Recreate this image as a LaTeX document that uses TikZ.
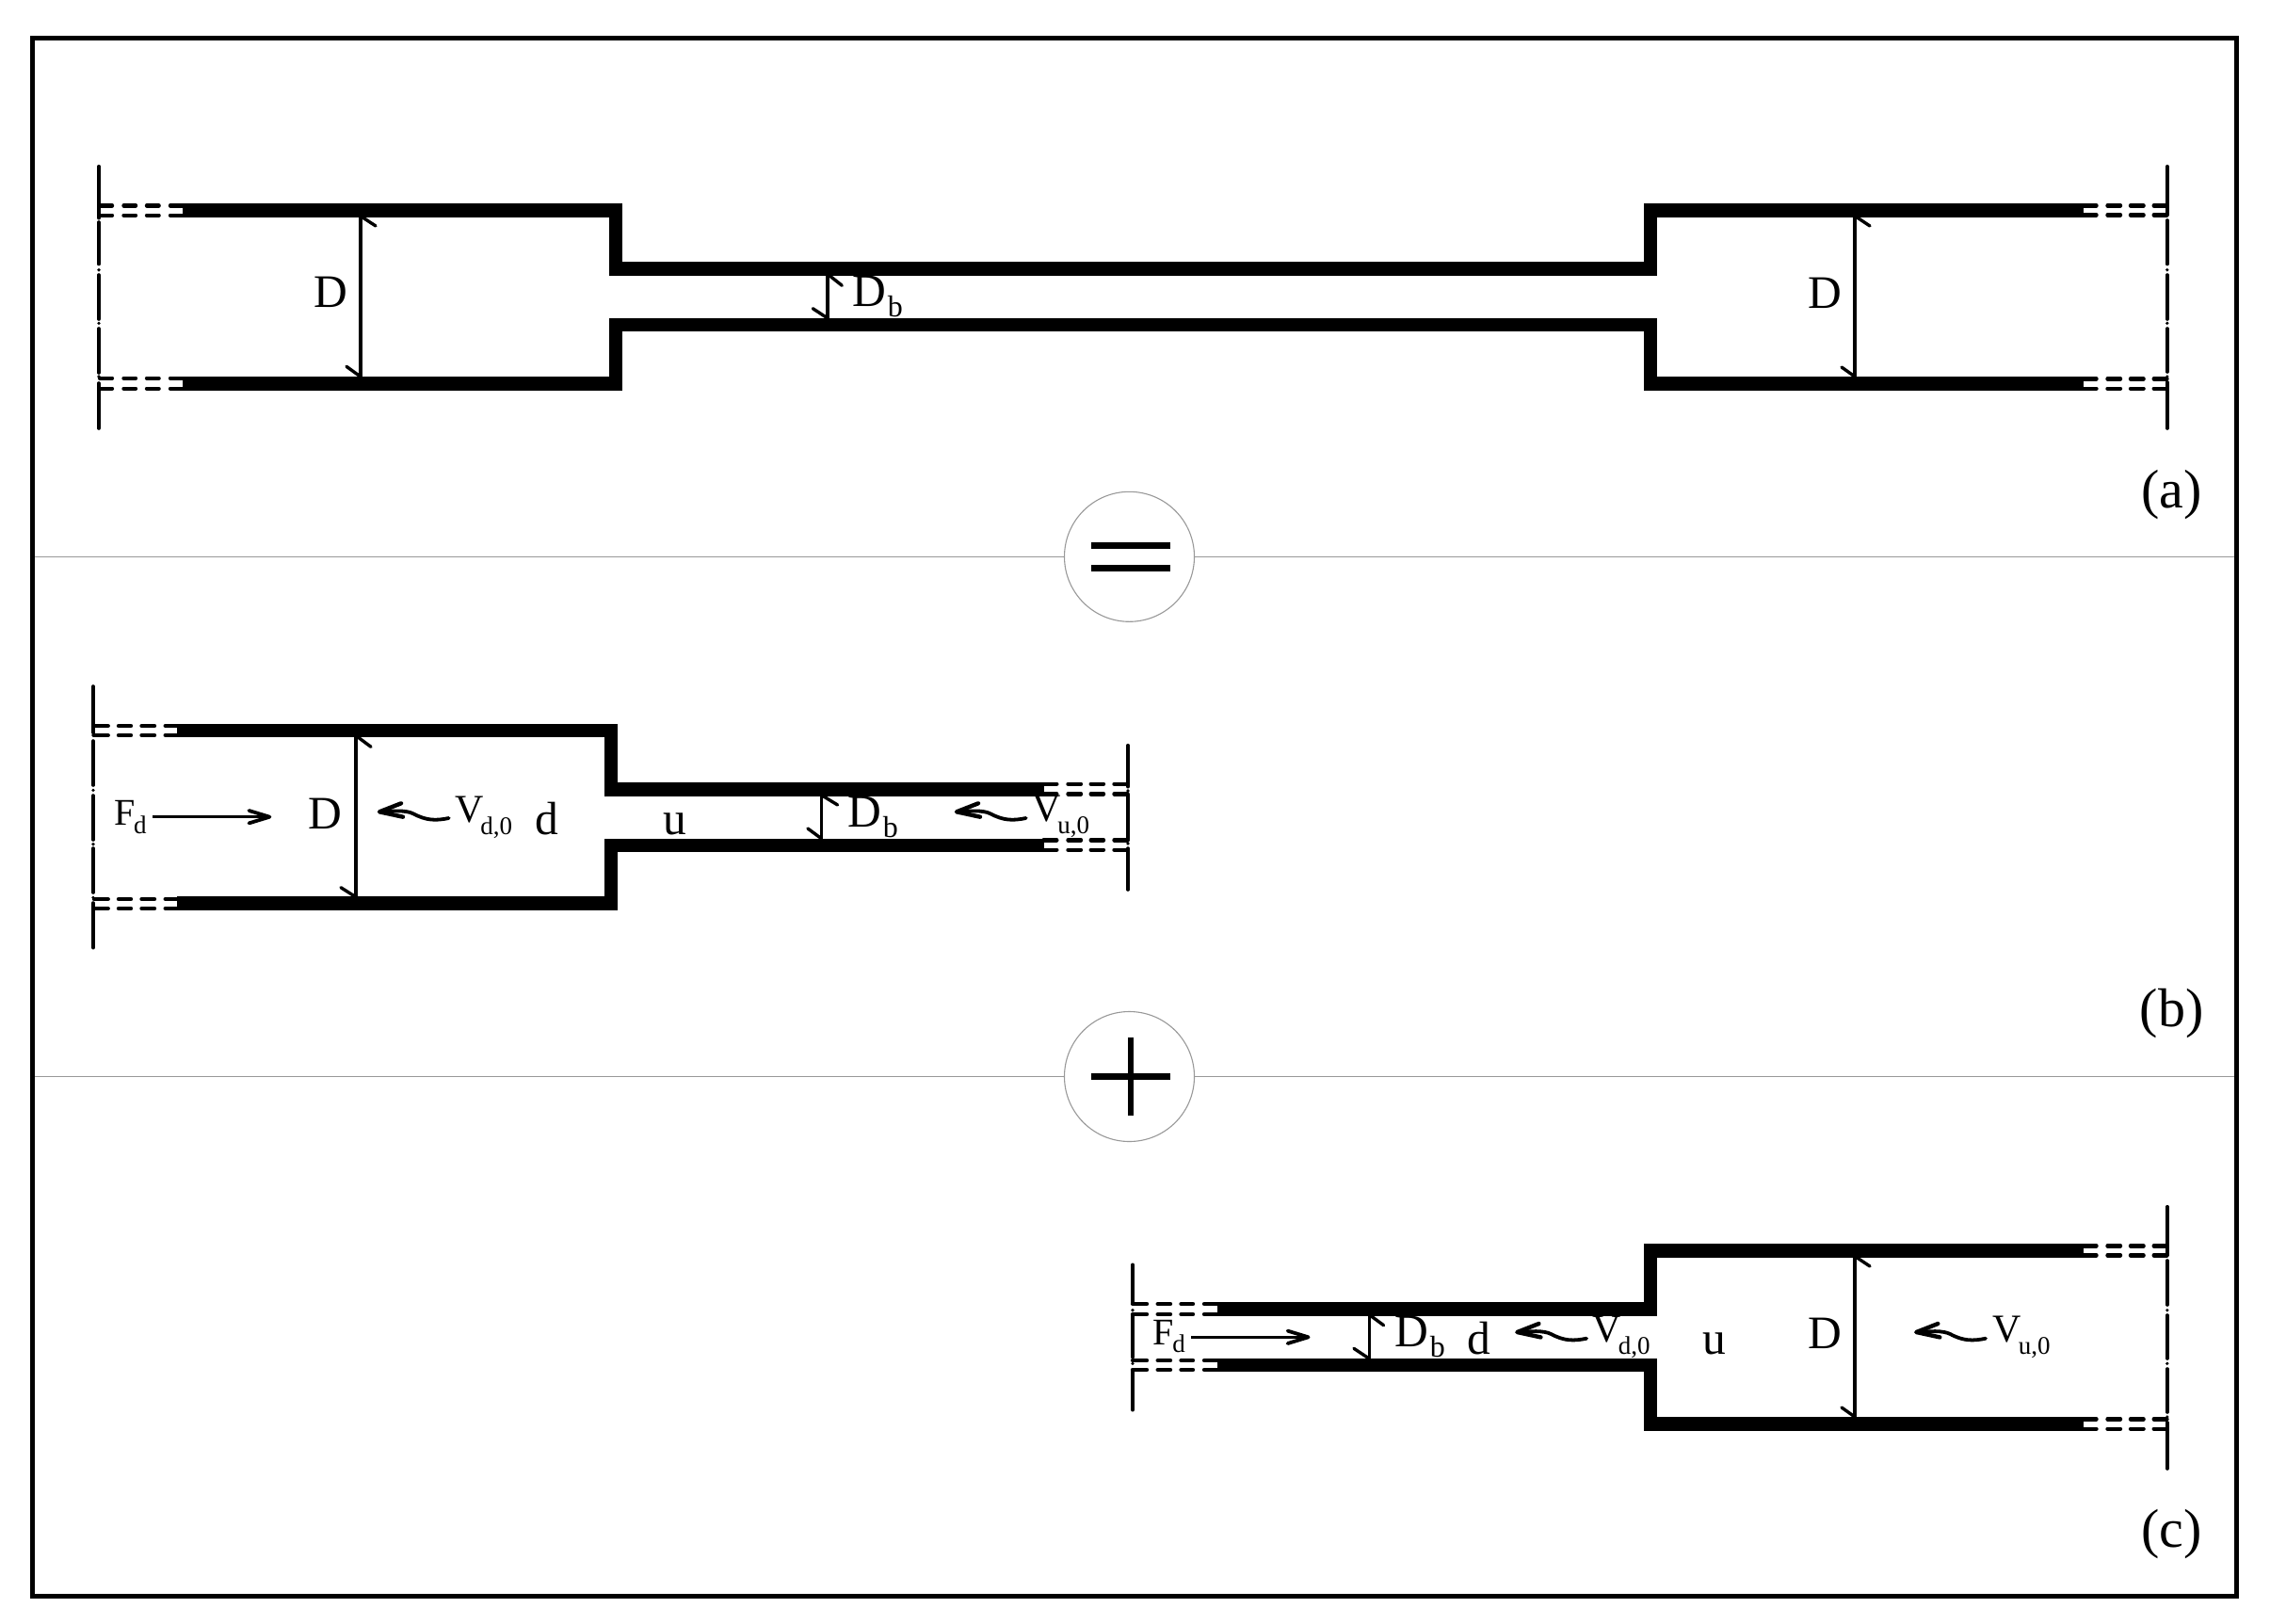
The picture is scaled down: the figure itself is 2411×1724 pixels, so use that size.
\documentclass[tikz,border=0pt]{standalone}
\usepackage{fontspec}
\setmainfont{Liberation Serif}
\tikzset{
  wall/.style={line width=14.5pt,miter limit=10,line cap=butt},
  dashpiece/.style={line width=4.4pt,line cap=round},
  axispiece/.style={line width=3.6pt,line cap=round},
  dimline/.style={line width=3.4pt},
  ticklet/.style={line width=3.4pt,line cap=round},
  flowline/.style={line width=3.4pt},
  lbl/.style={inner sep=0pt,outer sep=0pt,anchor=base west},
  lblc/.style={inner sep=0pt,outer sep=0pt,anchor=base},
  divider/.style={draw=black!40,line width=1.1pt},
  signring/.style={draw=black!40,line width=1.1pt,circle,minimum size=138pt,inner sep=0pt}
}
\newcommand{\BigTxt}{\fontsize{49.5}{50}\selectfont}
\newcommand{\CapTxt}{\fontsize{58}{59}\selectfont}
\newcommand{\Vlab}[1]{{\fontsize{42}{42}\selectfont V}\kern-3pt\raisebox{-13pt}{\fontsize{27}{27}\selectfont #1,0}}
\newcommand{\Flab}{{\fontsize{40}{40}\selectfont F}\kern-1pt\raisebox{-8.5pt}{\fontsize{27}{27}\selectfont d}}
\newcommand{\Dblab}{{\BigTxt D}\kern2pt\raisebox{-11pt}{\fontsize{32}{32}\selectfont b}}
% dashes: #1 list of y, #2 list of x1/x2
\newcommand{\dashrows}[2]{\foreach \yy in {#1}{\foreach \xa/\xb in {#2}{\draw[dashpiece] (\xa,\yy) -- (\xb,\yy);}}}
\newcommand{\axisline}[2]{\foreach \ya/\yb in {#2}{\draw[axispiece] (#1,\ya) -- (#1,\yb);}}
% dimension: x, ytop, ybottom; top tick end, bottom tick end
\newcommand{\dimarrow}[5]{%
  \draw[dimline] (#1,#2) -- (#1,#3);
  \draw[ticklet] (#1+2,#2) -- (#4);
  \draw[ticklet] (#1,#3) -- (#5);}
% wavy arrow with tip at #1
\newcommand{\squig}[1]{\begin{scope}[shift={(#1)}]
  \draw[line width=3.8pt,line cap=round] (73.7,6.7) .. controls (60,9.5) and (50,9.5) .. (36,2) .. controls (28,-2) and (15,-1) .. (0,0);
  \draw[line width=4.4pt,line cap=round,line join=round] (23,-9) -- (0,0) -- (25,5.4);
  \end{scope}}
\newcommand{\straightarrow}[2]{\begin{scope}[shift={(#1)}]
  \draw[flowline] (0,0) -- (#2-1,0);
  \draw[line width=3.8pt,line cap=round,line join=round] (#2-22,-6.7) -- (#2,0) -- (#2-22,6.7);
  \end{scope}}
\begin{document}
\begin{tikzpicture}[x=1pt,y=-1pt]
\useasboundingbox (0,0) rectangle (2411,1724);
\fill[white] (0,0) rectangle (2411,1724);
% dividers and signs
\node[signring] (eq) at (1199.5,591.3) {};
\node[signring] (pl) at (1199.5,1143.5) {};
\coordinate (l1) at (34.5,591.3); \coordinate (r1) at (2375.5,591.3);
\coordinate (l2) at (34.5,1143.5); \coordinate (r2) at (2375.5,1143.5);
\draw[divider] (l1) -- (eq); \draw[divider] (eq) -- (r1);
\draw[divider] (l2) -- (pl); \draw[divider] (pl) -- (r2);
\draw[line width=4.5pt] (34.5,40.5) rectangle (2375.5,1695.3);
\fill (1159,576) rectangle (1243.3,582.6);
\fill (1159,600.4) rectangle (1243.3,607);
\fill (1159,1140.3) rectangle (1243.3,1147);
\fill (1198,1101.8) rectangle (1204,1185);
% ---------- panel a
\draw[wall] (194,223.3) -- (653.8,223.3) -- (653.8,285.5) -- (1753.2,285.5) -- (1753.2,223.3) -- (2212.8,223.3);
\draw[wall] (194,407.3) -- (653.8,407.3) -- (653.8,345) -- (1753.2,345) -- (1753.2,407.3) -- (2212.8,407.3);
\dashrows{218.3,228.7,401.7,412.7}{106/119,131.5/144,156/168.6,181/194}
\dashrows{218.3,228.3,402.3,412.7}{2212.8/2226.5,2238.5/2252,2263/2276.6,2287.7/2301.4}
\axisline{105}{176.7/231.7,236/280.5,286.7/286.7,292/339,343.3/343.3,349/396,400/400,407/455}
\axisline{2301.8}{176.7/228.3,234/280.5,286.7/286.7,292/339,343.3/343.3,349/395,400/400,406/455}
\dimarrow{382.8}{230.7}{400}{399,240}{368,389.3}
\dimarrow{879}{292.7}{338}{894.3,303.3}{863.3,327.7}
\dimarrow{1970}{230.7}{400}{1986,240}{1956,390}
\node[lblc] (aD) at (351.4,326.7) {\BigTxt D};
\node[lbl] (aDb) at (905,325.7) {\Dblab};
\node[lblc] (aDr) at (1938.5,327.3) {\BigTxt D};
\node[lblc] (capa) at (2306.5,539) {\CapTxt (a)};
% ---------- panel b
\draw[wall] (188.4,776) -- (649,776) -- (649,838.3) -- (1108.5,838.3);
\draw[wall] (188.4,959.7) -- (649,959.7) -- (649,898) -- (1108.5,898);
\dashrows{771,781,955,965}{100/114.7,126/139,150.5/164,175.7/188.4}
\dashrows{832.7,843.3,892.3,902.7}{1108.5/1122.3,1134.5/1148,1158.7/1172,1183.5/1197.7}
\axisline{99}{729/778.3,781/781,787/834,839.3/839.3,845/892,896.7/896.7,901/948,953.3/953.3,959/1006.7}
\axisline{1198}{791.7/835.7,840/840,844.5/891,896/896,901/945}
\dimarrow{377.8}{782.7}{952.7}{394,793.3}{362,942.7}
\dimarrow{872.4}{845.7}{890.7}{889.6,855}{857.9,880}
\node[lbl] (bF) at (121,876.7) {\Flab};
\straightarrow{162,867.7}{124.4}
\node[lblc] (bD) at (345.4,880) {\BigTxt D};
\squig{403,862.3}
\node[lbl] (bVd) at (483,873.3) {\Vlab{d}};
\node[lblc] (bd) at (580.6,886) {\BigTxt d};
\node[lblc] (bu) at (716.5,886) {\BigTxt u};
\node[lbl] (bDb) at (900,878.3) {\Dblab};
\squig{1016,862.3}
\node[lbl] (bVu) at (1096,872.7) {\Vlab{u}};
\node[lblc] (capb) at (2306.5,1090) {\CapTxt (b)};
% ---------- panel c
\draw[wall] (1292.8,1390.7) -- (1753.2,1390.7) -- (1753.2,1328.3) -- (2212.8,1328.3);
\draw[wall] (1292.8,1450) -- (1753.2,1450) -- (1753.2,1512.3) -- (2212.8,1512.3);
\dashrows{1385,1396,1445,1455}{1203/1218,1229.7/1243,1254.5/1267,1279/1292.8}
\dashrows{1323.3,1333.3,1507.3,1517.7}{2212.8/2226.5,2238.5/2252,2263/2276.6,2287.7/2301.4}
\axisline{1203}{1343.3/1383.3,1391.7/1391.7,1397/1441.7,1448.3/1448.3,1455/1497.7}
\axisline{2301.8}{1281.7/1333.3,1339/1386,1391.7/1391.7,1397/1443,1448.3/1448.3,1454/1500,1505/1505,1511/1560}
\dimarrow{1454.4}{1398}{1443.3}{1469.6,1407.7}{1438,1432.3}
\dimarrow{1970}{1335.7}{1505}{1986,1345}{1956,1495}
\node[lbl] (cF) at (1224,1428.3) {\Flab};
\straightarrow{1265.4,1420.3}{124.2}
\node[lbl] (cDb) at (1481,1430.7) {\Dblab};
\node[lblc] (cd) at (1571,1438.3) {\BigTxt d};
\squig{1611.4,1415}
\node[lbl] (cVd) at (1691.4,1425.7) {\Vlab{d}};
\node[lblc] (cu) at (1820.5,1438.3) {\BigTxt u};
\node[lblc] (cD) at (1938.5,1432.3) {\BigTxt D};
\squig{2035.3,1415}
\node[lbl] (cVu) at (2116.5,1425) {\Vlab{u}};
\node[lblc] (capc) at (2306.5,1643) {\CapTxt (c)};
\end{tikzpicture}
\end{document}
